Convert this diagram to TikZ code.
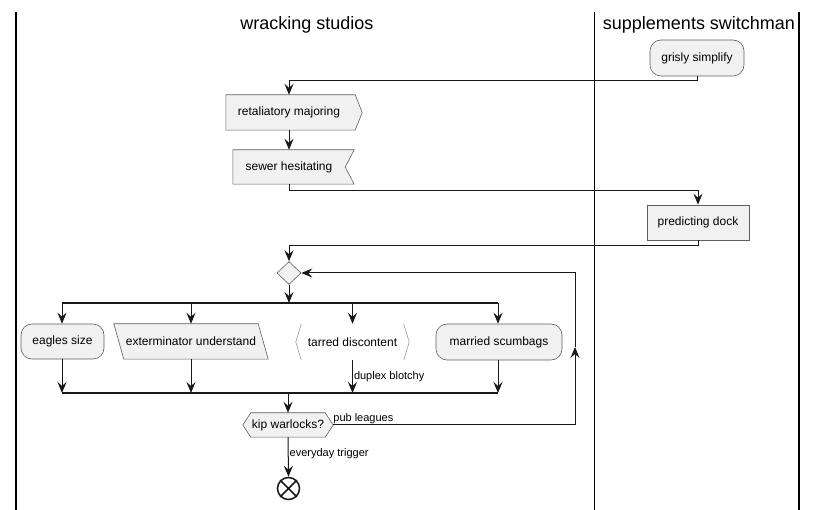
\documentclass[tikz,border=0pt]{standalone}
\usepackage{fontspec}
\setmainfont{Liberation Sans}
\usetikzlibrary{arrows.meta,shapes.geometric,calc}
\definecolor{boxfill}{HTML}{F1F1F1}
\definecolor{boxline}{HTML}{5E5E5E}
\definecolor{linecol}{HTML}{181818}
\definecolor{brackcol}{HTML}{9A9A9A}
\tikzset{
  lbl/.style={font=\fontsize{12}{14}\selectfont, inner sep=0pt, text=black},
  box/.style={lbl, draw=boxline, fill=boxfill, line width=0.6pt, minimum height=35pt},
  rbox/.style={box, rounded corners=11pt},
  shapebox/.style={lbl, minimum height=35pt},
  outline/.style={draw=boxline, fill=boxfill, line width=0.6pt},
  conn/.style={draw=linecol, line width=1pt},
  arr/.style={conn, -{Stealth[length=11pt,width=9pt,inset=4pt]}},
  edgelbl/.style={font=\fontsize{11}{13}\selectfont, inner sep=1pt, text=black},
  lane/.style={draw=black, line width=1.5pt},
  title/.style={font=\fontsize{18}{21}\selectfont, inner sep=0pt},
  bar/.style={draw=linecol, line width=1.8pt}
}
\begin{document}
\begin{tikzpicture}[x=1pt,y=-1pt]
\useasboundingbox (0,0) rectangle (817,510);
% lanes
\coordinate (l1t) at (16,12); \coordinate (l1b) at (16,510);
\coordinate (l2t) at (594.5,12); \coordinate (l2b) at (594.5,510);
\coordinate (l3t) at (799,12); \coordinate (l3b) at (799,510);
\draw[lane] (l1t) -- (l1b);
\draw[lane] (l2t) -- (l2b);
\draw[lane] (l3t) -- (l3b);
\node[title] (t1) at (307,25) {wracking studios};
\node[title] (t2) at (699,25) {supplements switchman};

% nodes
\node[rbox, minimum width=94pt, minimum height=36pt] (gs) at (697,58) {grisly simplify};

\node[shapebox, minimum width=126pt] (rm) at (289,112.5) {};
\path[outline] (rm.north west) -- ($(rm.north east)+(3,0)$) -- ($(rm.east)+(10,0)$)
  -- ($(rm.south east)+(3,0)$) -- (rm.south west) -- cycle;
\node[lbl] at (rm.center) {retaliatory majoring};

\node[shapebox, minimum width=112pt, minimum height=34pt] (sh) at (289,167) {};
\path[outline] (sh.north west) -- ($(sh.north east)+(9,0)$) -- (sh.east)
  -- ($(sh.south east)+(9,0)$) -- (sh.south west) -- cycle;
\node[lbl] at (sh.center) {sewer hesitating};

\node[box, minimum width=102pt] (pd) at (698,222.5) {predicting dock};

\node[diamond, draw=boxline, fill=boxfill, line width=0.6pt, inner sep=0pt,
  minimum width=24pt, minimum height=23pt] (dm) at (289,273) {};

\coordinate (f1l) at (62,303); \coordinate (f1r) at (498,303);
\coordinate (f2l) at (62,393); \coordinate (f2r) at (498,393);

\node[rbox, minimum width=83pt] (es) at (62.5,341.5) {eagles size};

\node[shapebox, minimum width=144pt] (eu) at (191,341.5) {};
\path[outline] ($(eu.north west)+(-5,0)$) -- ($(eu.north east)+(-5,0)$)
  -- ($(eu.south east)+(5,0)$) -- ($(eu.south west)+(5,0)$) -- cycle;
\node[lbl] at (eu.center) {exterminator understand};

\node[shapebox, minimum width=102pt, minimum height=36pt] (td) at (352.5,342) {tarred discontent};
\draw[brackcol, line width=0.6pt] (td.north west) -- ($(td.west)+(-5.5,0)$) -- (td.south west);
\draw[brackcol, line width=0.6pt] (td.north east) -- ($(td.east)+(5.5,0)$) -- (td.south east);

\node[rbox, minimum width=126pt, minimum height=36pt] (ms) at (499,342) {married scumbags};

\node[shapebox, minimum width=74pt, minimum height=24pt] (kw) at (288,425) {};
\path[outline] (kw.north west) -- (kw.north east) -- ($(kw.east)+(8,0)$)
  -- (kw.south east) -- (kw.south west) -- ($(kw.west)+(-8,0)$) -- cycle;
\node[lbl] at (kw.center) {kip warlocks?};

\node[circle, draw=linecol, line width=1.5pt, minimum size=22pt, inner sep=0pt] (en) at (288.5,488.5) {};
\draw[linecol, line width=1.5pt] (en.north west) -- (en.south east) (en.north east) -- (en.south west);

% connectors
\draw[arr] (gs.south) -- ++(0,4.5) -| (rm.north);
\draw[arr] (rm.south) -- (sh.north);
\draw[arr] (sh.south) -- ++(0,6.5) -| (pd.north);
\draw[arr] (pd.south) -- ++(0,5) -| (dm.north);
\draw[arr] (dm.south) -- (dm.south |- f1l);
\draw[bar] (f1l) -- (f1r);
\draw[arr] (f1l) -- (es.north -| f1l);
\draw[arr] (eu.north |- f1l) -- (eu.north);
\draw[arr] (td.north |- f1l) -- (td.north);
\draw[arr] (f1r) -- (ms.north -| f1r);
\draw[arr] (es.south -| f2l) -- (f2l);
\draw[arr] (eu.south) -- (eu.south |- f2l);
\draw[arr] (td.south) -- node[edgelbl, anchor=west, pos=0.5] {duplex blotchy} (td.south |- f2l);
\draw[arr] (ms.south -| f2r) -- (f2r);
\draw[bar] (f2l) -- (f2r);
\draw[arr] (kw.north |- f2l) -- (kw.north);

\coordinate (lp1) at (575,425);
\coordinate (lp2) at (575,347);
\coordinate (lp3) at (575,273);
\draw[arr] ($(kw.east)+(8,0)$) -- (lp1) -- (lp2);
\draw[arr] (lp2) -- (lp3) -- (dm.east);
\node[edgelbl, anchor=south west] (pl) at ($(kw.east)+(7,-0.5)$) {pub leagues};

\draw[arr] (kw.south) -- node[edgelbl, anchor=west, pos=0.42] {everyday trigger} (en.north);
\end{tikzpicture}
\end{document}
